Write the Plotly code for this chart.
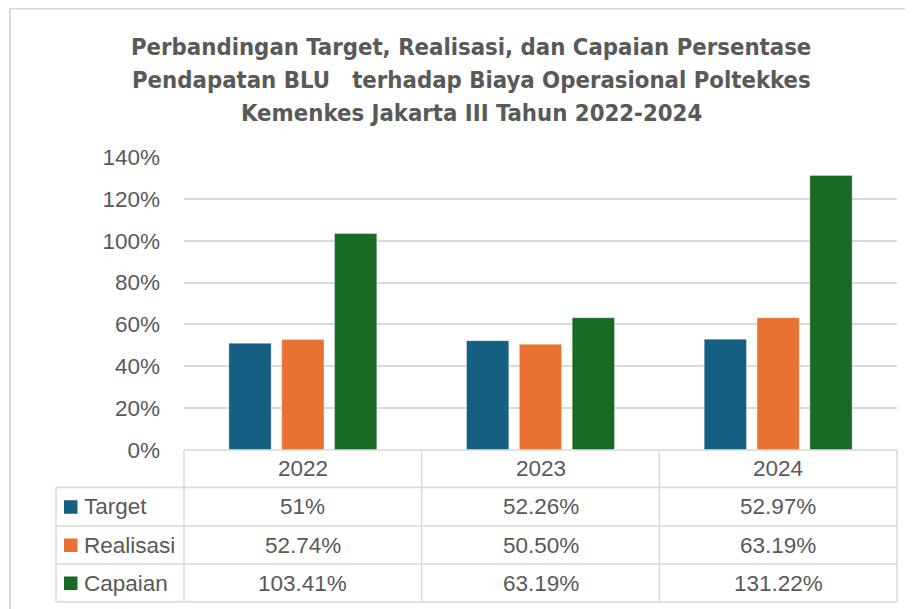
import plotly.graph_objects as go

# ---- data ----
years = ["2022", "2023", "2024"]
series_names = ["Target", "Realisasi", "Capaian"]
target = [0.51, 0.5226, 0.5297]
realisasi = [0.5274, 0.5050, 0.6319]
capaian = [1.0341, 0.6319, 1.3122]
target_labels = ["51%", "52.26%", "52.97%"]
realisasi_labels = ["52.74%", "50.50%", "63.19%"]
capaian_labels = ["103.41%", "63.19%", "131.22%"]
colors = ["#156082", "#E97132", "#196B24"]
title_lines = [
    "Perbandingan Target, Realisasi, dan Capaian Persentase",
    "Pendapatan BLU\u00a0\u00a0 terhadap Biaya Operasional Poltekkes",
    "Kemenkes Jakarta III Tahun 2022-2024",
]

values = [target, realisasi, capaian]
labels = [target_labels, realisasi_labels, capaian_labels]

# ---- geometry: screen pixels, page body has an 8px margin ----
OFF = 8
W, H = 905, 601
# plot area on screen: x 184-897, y 157-450
L, R, T, B = 184 - OFF, W - (897 - OFF), 157 - OFF, H - (450 - OFF)
PW = W - L - R
PH = H - T - B
GRID = "#D9D9D9"
TXT = "#595959"
FONT = "Liberation Sans, Arial, sans-serif"
FS = 22.5


def px_x(sx):
    return (sx - OFF - L) / PW


def px_y(sy):
    return (H - B - (sy - OFF)) / PH


fig = go.Figure()
for name, vals, col in zip(series_names, values, colors):
    fig.add_trace(go.Bar(
        x=years, y=vals, name=name,
        marker=dict(color=col, line=dict(color="rgba(255,255,255,0.35)", width=1)),
    ))

shapes = []
annotations = []

# outer chart border (top/left visible)
shapes.append(dict(type="rect", xref="paper", yref="paper",
                   x0=px_x(10), x1=px_x(940), y0=px_y(8.5), y1=px_y(660),
                   line=dict(color=GRID, width=2), fillcolor="rgba(0,0,0,0)", layer="below"))

# title lines
for i, line in enumerate(title_lines):
    annotations.append(dict(text="<b>" + line + "</b>", xref="paper", yref="paper",
                            x=px_x(471), y=px_y(47 + 33 * i), xanchor="center", yanchor="middle",
                            showarrow=False,
                            font=dict(family="Liberation Sans Narrow, DejaVu Sans Condensed, Arial Narrow, sans-serif",
                                      size=23.7, color=TXT)))

# data table
n = len(years)
row_edges = [450, 487.5, 526, 564, 602]
left_edge = px_x(56)
lw = 1.5
shapes.append(dict(type="line", xref="paper", yref="paper", x0=0, x1=1,
                   y0=px_y(row_edges[0]), y1=px_y(row_edges[0]), line=dict(color=GRID, width=lw)))
for r in row_edges[1:]:
    shapes.append(dict(type="line", xref="paper", yref="paper", x0=left_edge, x1=1,
                       y0=px_y(r), y1=px_y(r), line=dict(color=GRID, width=lw)))
shapes.append(dict(type="line", xref="paper", yref="paper", x0=left_edge, x1=left_edge,
                   y0=px_y(row_edges[1]), y1=px_y(row_edges[-1]), line=dict(color=GRID, width=lw)))
for j in range(n + 1):
    xx = j / n
    shapes.append(dict(type="line", xref="paper", yref="paper", x0=xx, x1=xx,
                       y0=px_y(row_edges[0]), y1=px_y(row_edges[-1]), line=dict(color=GRID, width=lw)))

for j, yr in enumerate(years):
    annotations.append(dict(text=yr, xref="paper", yref="paper", x=(j + 0.5) / n,
                            y=px_y((row_edges[0] + row_edges[1]) / 2), xanchor="center", yanchor="middle",
                            showarrow=False, font=dict(family=FONT, size=FS, color=TXT)))

for i, (name, labs, col) in enumerate(zip(series_names, labels, colors)):
    yc = (row_edges[i + 1] + row_edges[i + 2]) / 2
    shapes.append(dict(type="rect", xref="paper", yref="paper",
                       x0=px_x(64), x1=px_x(77.5), y0=px_y(yc - 6.5), y1=px_y(yc + 7),
                       fillcolor=col, line=dict(width=0)))
    annotations.append(dict(text=name, xref="paper", yref="paper", x=px_x(82), y=px_y(yc),
                            xanchor="left", yanchor="middle", showarrow=False,
                            font=dict(family=FONT, size=FS, color=TXT)))
    for j, lab in enumerate(labs):
        annotations.append(dict(text=lab, xref="paper", yref="paper", x=(j + 0.5) / n, y=px_y(yc),
                                xanchor="center", yanchor="middle", showarrow=False,
                                font=dict(family=FONT, size=FS, color=TXT)))

fig.update_layout(
    width=W, height=H,
    margin=dict(l=L, r=R, t=T, b=B, pad=0),
    paper_bgcolor="white", plot_bgcolor="white",
    barmode="group", bargap=0.333, bargroupgap=0.2,
    showlegend=False,
    shapes=shapes, annotations=annotations,
    font=dict(family=FONT, color=TXT),
)
fig.update_xaxes(showticklabels=False, showgrid=False, showline=False, zeroline=False, ticks="")
fig.update_yaxes(range=[0, 1.4], dtick=0.2, tickformat=".0%", showgrid=True, gridcolor=GRID,
                 gridwidth=1.5, zeroline=False, showline=False, ticks="", ticklabelstandoff=23,
                 tickfont=dict(family=FONT, size=FS, color=TXT))

fig.write_html("out.html")
